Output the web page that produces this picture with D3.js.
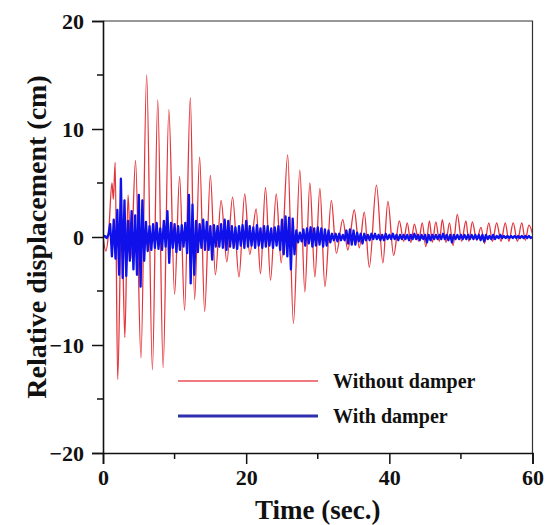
<!DOCTYPE html>
<html>
<head>
<meta charset="utf-8">
<script src="https://cdn.jsdelivr.net/npm/d3@7"></script>
<style>
  body { margin: 0; background: #fff; }
  svg text { font-family: "Liberation Serif", "Times New Roman", serif; font-weight: bold; fill: #111; }
</style>
</head>
<body>
<div id="chart"></div>
<script>
// red: without damper, peaks and troughs (sec, cm)
const redTime = [0, 0.4, 0.8, 1.25, 1.45, 1.7, 2.05, 2.6, 3.05, 3.5, 3.9, 4.55, 5.3, 6.1, 6.9, 7.65, 8.4, 9.2, 10.0, 10.7,
  11.4, 12.2, 12.8, 13.5, 14.2, 15.0, 15.7, 16.5, 17.3, 18.1, 19.0, 19.8, 20.5, 21.4, 22.0, 22.7, 23.4, 24.2, 24.9, 25.8,
  26.6, 27.5, 28.2, 28.9, 29.6, 30.3, 31.0, 31.9, 32.6, 33.5, 34.2, 35.1, 35.8, 36.5, 37.2, 38.2, 39.1, 39.8, 40.6, 41.4,
  42.0, 42.5, 43.0, 43.5, 44.1, 44.6, 45.1, 45.6, 46.0, 46.5, 47.0, 47.4, 47.9, 48.4, 48.9, 49.5, 50.1, 50.7, 51.1, 51.6,
  52.2, 52.8, 53.3, 53.9, 54.4, 55.0, 55.6, 56.2, 56.7, 57.3, 57.9, 58.5, 59.0, 59.5, 60]
const redDisp = [0, -1.3, 0.5, 5.0, 3.5, 6.9, -13.2, 2.2, -9.3, 3.9, -2.0, 7.1, -11.2, 15.0, -12.3, 12.7, -12.1, 11.8, -5.3, 5.6,
  -6.8, 12.9, -5.8, 7.4, -6.9, 5.7, -3.5, 3.4, -2.3, 3.7, -3.7, 4.0, -1.6, 2.6, -3.4, 4.6, -4.0, 4.0, -2.4, 7.6,
  -8.0, 6.2, -5.1, 5.0, -3.7, 4.5, -4.6, 3.4, -1.5, 1.6, -1.2, 2.5, -1.0, 2.3, -2.8, 4.8, -2.4, 3.3, -1.7, 1.5,
  -0.4, 1.3, -0.5, 1.2, -0.4, 1.3, -0.9, 1.5, -0.5, 1.4, -0.4, 1.6, -0.5, 1.3, -0.8, 2.1, -0.4, 1.5, -0.4, 1.4,
  -0.3, 0.9, -0.6, 1.3, -0.4, 1.3, -0.4, 1.3, -0.4, 1.3, -0.4, 1.3, -0.3, 1.1, 0.3]

// blue: with damper, one value every 0.25 s from 0 to 60 s
const blueStep = 0.25
const blueDisp = [
  0, 0.1, -0.1, 0.2,   1.2, -1.8, 1.6, -2.0,   2.5, -3.5, 5.4, -3.8,   3.4, -3.6, 1.5, -2.2,
  2.4, -3.0, 2.0, -3.5,   3.9, -4.6, 3.4, -2.2,   1.4, -1.3, 1.0, -1.2,   1.2, -1.0, 1.3, -1.1,
  0.8, -1.2, 1.5, -0.9,   2.4, -2.4, 1.3, -1.0,   1.2, -1.4, 1.0, -1.2,   1.1, -0.9, 1.3, -1.5,
  3.9, -4.3, 3.0, -3.5,   1.5, -1.4, 1.2, -1.0,   1.6, -1.2, 1.4, -1.2,   1.0, -2.1, 1.1, -0.9,
  1.0, -0.9, 1.2, -1.0,   1.6, -1.2, 1.5, -0.9,   1.0, -1.0, 0.9, -1.1,   1.0, -0.8, 1.1, -1.0,
  1.5, -0.9, 1.0, -0.8,   0.9, -1.0, 1.1, -0.8,   0.8, -1.0, 1.0, -0.9,   1.0, -0.8, 0.8, -1.0,
  0.9, -0.8, 1.0, -1.2,   1.6, -1.6, 1.9, -1.8,   1.8, -3.0, 1.7, -1.6,   0.6, -0.5, 0.4, -0.4,
  0.7, -0.8, 0.8, -0.6,   0.9, -0.9, 0.8, -0.8,   0.9, -0.7, 0.8, -0.9,   0.7, -0.8, 0.6, -0.5,
  0.3, -0.3, 0.3, -0.4,   0.3, -0.3, 0.2, -0.3,   0.6, -0.6, 0.7, -0.7,   0.6, -0.7, 0.4, -0.4,
  0.3, -0.6, 0.3, -0.3,   0.2, -0.3, 0.3, -0.2,   0.3, -0.2, 0.2, -0.3,   0.2, -0.3, 0.3, -0.2,
  0.2, -0.2, 0.3, -0.2,   0.2, -0.3, 0.2, -0.2,   0.2, -0.2, 0.2, -0.3,   0.2, -0.2, 0.3, -0.2,
  0.2, -0.3, 0.2, -0.2,   0.2, -0.5, 0.2, -0.3,   0.2, -0.2, 0.2, -0.2,   0.2, -0.2, 0.3, -0.2,
  0.2, -0.3, 0.2, -0.5,   0.2, -0.2, 0.2, -0.2,   0.2, -0.2, 0.2, -0.2,   0.2, -0.2, 0.2, -0.2,
  0.2, -0.2, 0.2, -0.3,   0.2, -0.4, 0.2, -0.2,   0.1, -0.2, 0.2, -0.2,   0.1, -0.1, 0.2, -0.1,
  0.1, -0.1, 0.1, -0.1,   0.1, -0.1, 0.1, -0.1,   0.1, -0.1, 0.1, -0.1,   0.1, -0.1, 0.1, -0.1,
  0
]

const xTicks = [0, 20, 40, 60]
const xMinor = [10, 30, 50]
const yTicks = [-20, -10, 0, 10, 20]
const yMinor = [-15, -5, 5, 15]
const seriesNames = ["Without damper", "With damper"]
const colors = ["#e2363c", "#1010ea"]

const width = 545, height = 525
const margin = [21, 12, 72, 103] // top right bottom left

const svg = d3.select("#chart").append("svg")
  .attr("width", width)
  .attr("height", height)
  .attr("viewBox", [0, 0, width, height])

const x = d3.scaleLinear().domain([0, 60]).range([margin[3], width - margin[1] - 0.5])
const y = d3.scaleLinear().domain([-20, 20]).range([height - margin[2], margin[0]])

svg.append("clipPath").attr("id", "plot")
  .append("rect")
  .attr("x", x(0)).attr("y", y(20))
  .attr("width", x(60) - x(0)).attr("height", y(-20) - y(20))

// series
const red = redTime.map((t, i) => [t, redDisp[i]])
const blue = blueDisp.map((v, i) => [i * blueStep, v])

const redLine = d3.line().x(d => x(d[0])).y(d => y(d[1])).curve(d3.curveMonotoneX)
const blueLine = d3.line().x(d => x(d[0])).y(d => y(d[1]))

const plot = svg.append("g").attr("clip-path", "url(#plot)")
plot.append("path")
  .datum(red)
  .attr("fill", "none")
  .attr("stroke", colors[0])
  .attr("stroke-width", 1.3)
  .attr("d", redLine)
plot.append("path")
  .datum(blue)
  .attr("fill", "none")
  .attr("stroke", colors[1])
  .attr("stroke-width", 2.3)
  .attr("stroke-linejoin", "round")
  .attr("d", blueLine)

// frame (top and right)
svg.append("path")
  .attr("fill", "none")
  .attr("stroke", "#333")
  .attr("stroke-width", 1.2)
  .attr("d", `M${x(0)},${y(20)}H${x(60)}V${y(-20)}`)

// axes
const xAxis = svg.append("g")
  .attr("transform", `translate(0,${y(-20)})`)
  .call(d3.axisBottom(x).tickValues(xTicks).tickSize(11).tickPadding(5).tickFormat(d3.format("d")))
xAxis.selectAll(".minor")
  .data(xMinor).join("line")
  .attr("class", "minor")
  .attr("x1", d => x(d)).attr("x2", d => x(d))
  .attr("y1", 0).attr("y2", 6)
  .attr("stroke", "#111").attr("stroke-width", 1.5)

const yAxis = svg.append("g")
  .attr("transform", `translate(${x(0)},0)`)
  .call(d3.axisLeft(y).tickValues(yTicks).tickSize(11).tickPadding(8)
    .tickFormat(d => d < 0 ? "\u2212" + Math.abs(d) : d))
yAxis.selectAll(".minor")
  .data(yMinor).join("line")
  .attr("class", "minor")
  .attr("y1", d => y(d)).attr("y2", d => y(d))
  .attr("x1", 0).attr("x2", -6)
  .attr("stroke", "#111").attr("stroke-width", 1.5)

svg.selectAll(".domain").attr("stroke", "#111").attr("stroke-width", 1.6)
svg.selectAll(".tick line").attr("stroke", "#111").attr("stroke-width", 1.5)
svg.selectAll(".tick text").style("font-size", "22px").attr("fill", "#111")

// axis titles
svg.append("text")
  .attr("x", (x(0) + x(60)) / 2)
  .attr("y", 519)
  .attr("text-anchor", "middle")
  .style("font-size", "27px")
  .text("Time (sec.)")
svg.append("text")
  .attr("transform", `translate(36,${(y(20) + y(-20)) / 2}) rotate(-90)`)
  .attr("text-anchor", "middle")
  .attr("dy", "0.35em")
  .style("font-size", "28px")
  .text("Relative displacement (cm)")

// legend
const legend = svg.append("g")
seriesNames.forEach((name, i) => {
  const ly = 381 + i * 35
  legend.append("line")
    .attr("x1", 178).attr("x2", 318)
    .attr("y1", ly).attr("y2", ly)
    .attr("stroke", i === 0 ? "#f07a80" : "#2f2fb0")
    .attr("stroke-width", i === 0 ? 1.8 : 3)
  legend.append("text")
    .attr("x", 333).attr("y", ly)
    .attr("dy", "0.35em")
    .style("font-size", "20px")
    .text(name)
})
</script>
</body>
</html>
